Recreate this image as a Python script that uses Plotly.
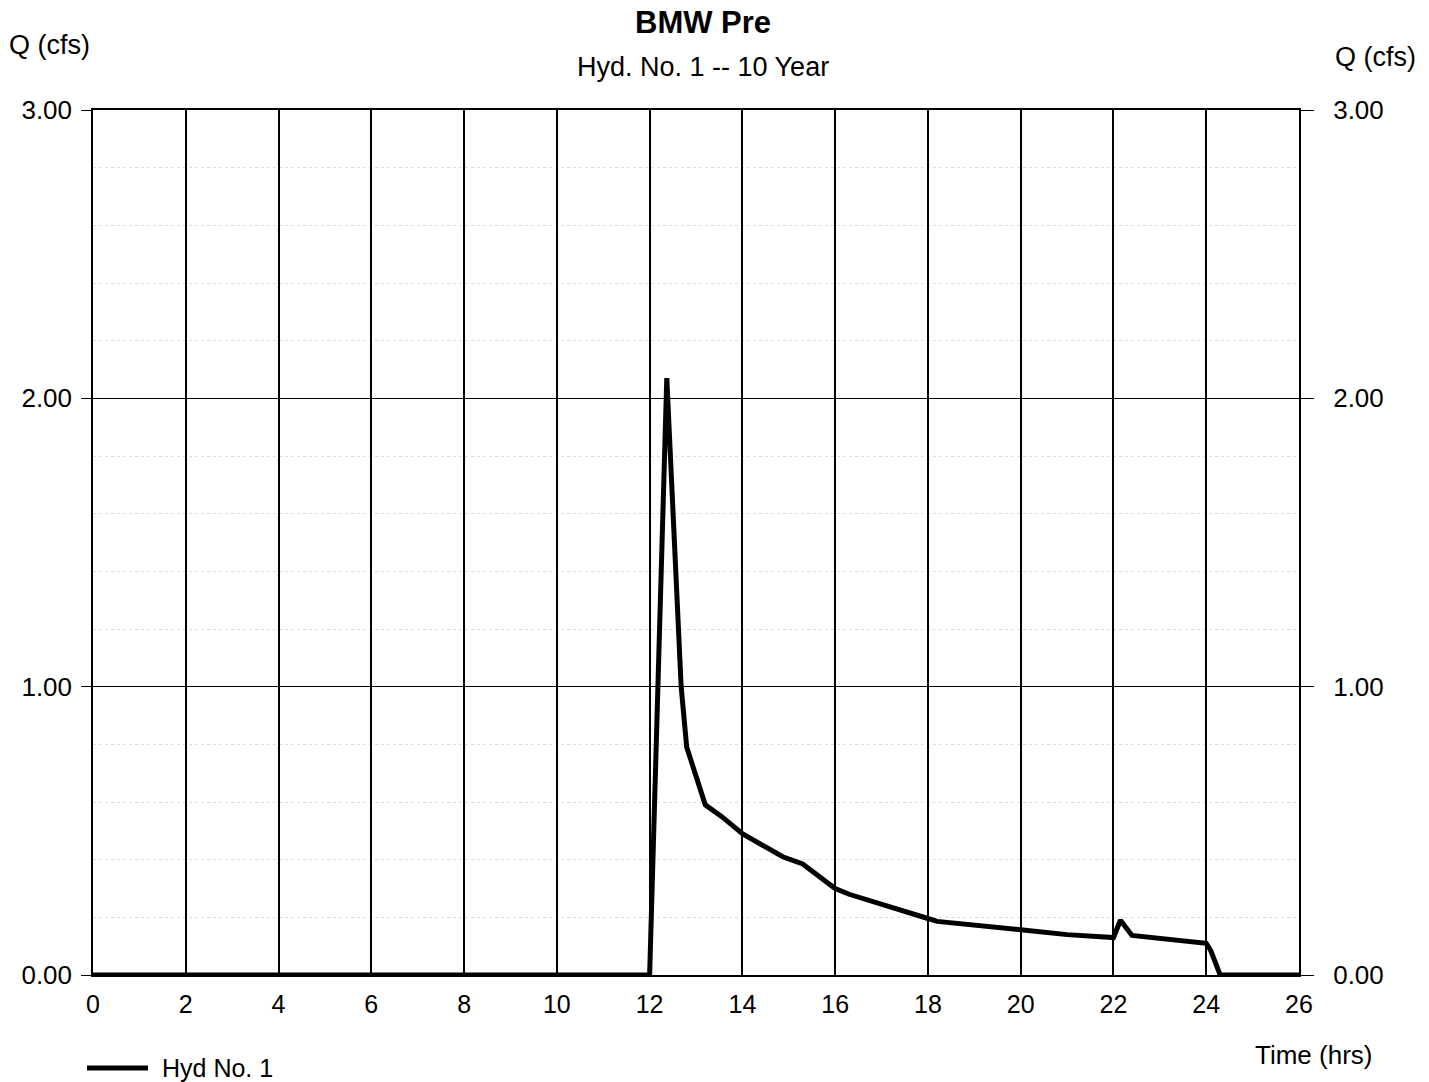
import plotly.graph_objects as go

# Hydrograph
time_hrs = [0.0, 12.0, 12.37, 12.68, 12.8, 13.2, 13.55, 14.0, 14.87, 15.3, 16.0, 16.3,
            18.0, 18.2, 20.0, 21.0, 22.0, 22.15, 22.4, 24.0, 24.1, 24.3, 26.0]
q_cfs = [0.0, 0.0, 2.07, 1.0, 0.79, 0.59, 0.55, 0.49, 0.41, 0.385, 0.30, 0.28,
         0.196, 0.186, 0.157, 0.14, 0.13, 0.19, 0.137, 0.11, 0.084, 0.0, 0.0]

x_ticks = list(range(0, 27, 2))
y_major = [0, 1, 2, 3]
y_minor = [0.2, 0.4, 0.6, 0.8, 1.2, 1.4, 1.6, 1.8, 2.2, 2.4, 2.6, 2.8]

series_name = "Hyd No. 1"
title_text = "BMW Pre"
subtitle_text = "Hyd. No. 1 -- 10 Year"

FONT = "Liberation Sans, Arial, sans-serif"
PLOT_W = 1429 - 93 - 130
PLOT_H = 1082 - 110 - 107

fig = go.Figure()
fig.add_trace(go.Scatter(x=time_hrs, y=q_cfs, mode="lines", name=series_name,
                         line=dict(color="black", width=5), showlegend=False))
fig.add_trace(go.Scatter(x=time_hrs, y=q_cfs, mode="lines", yaxis="y2",
                         line=dict(color="rgba(0,0,0,0)", width=0), showlegend=False,
                         hoverinfo="skip"))

fig.update_layout(
    width=1429, height=1082,
    margin=dict(l=93, r=130, t=110, b=107, autoexpand=False),
    paper_bgcolor="white", plot_bgcolor="white",
    font=dict(family=FONT, size=26, color="black"),
    xaxis=dict(range=[0, 26], tickvals=x_ticks, ticks="", showgrid=True,
               gridcolor="black", gridwidth=1.5, showline=True, linecolor="black",
               linewidth=1.5, mirror=True, zeroline=False, ticklabelstandoff=6,
               tickfont=dict(size=25)),
    yaxis=dict(range=[0, 3], tickvals=y_major, tickformat=".2f", ticks="outside",
               ticklen=10, tickcolor="black", showgrid=True, gridcolor="black",
               gridwidth=1, showline=True, linecolor="black", linewidth=1.5,
               mirror=True, zeroline=False, ticklabelstandoff=4,
               minor=dict(tickvals=y_minor, showgrid=True, gridcolor="#dddddd",
                          griddash="dot", gridwidth=1, ticks="")),
    yaxis2=dict(range=[0, 3], tickvals=y_major, tickformat=".2f", overlaying="y",
                side="right", ticks="outside", ticklen=14, tickcolor="black",
                showgrid=False, zeroline=False, showline=False, ticklabelstandoff=14),
    showlegend=False,
)

# Legend key (drawn to match the long sample line of the original)
leg_y = (975 - 1068) / PLOT_H * -1 * -1
leg_y = -(1068 - 975) / PLOT_H
fig.add_shape(type="line", xref="paper", yref="paper",
              x0=(87 - 93) / PLOT_W, x1=(148 - 93) / PLOT_W, y0=leg_y, y1=leg_y,
              line=dict(color="black", width=5))
fig.add_annotation(text=series_name, xref="paper", yref="paper",
                   x=(160 - 93) / PLOT_W, y=leg_y, showarrow=False, xanchor="left",
                   yanchor="middle", font=dict(size=25))

fig.add_annotation(text="<b>" + title_text + "</b>", xref="paper", yref="paper",
                   x=0.506, y=1.0, yshift=88, showarrow=False, font=dict(size=31),
                   yanchor="middle")
fig.add_annotation(text=subtitle_text, xref="paper", yref="paper", x=0.506, y=1.0,
                   yshift=43, showarrow=False, font=dict(size=27), yanchor="middle")
fig.add_annotation(text="Q (cfs)", xref="paper", yref="paper", x=0.0, y=1.0,
                   xshift=-86, yshift=65, showarrow=False, xanchor="left",
                   yanchor="middle", font=dict(size=27))
fig.add_annotation(text="Q (cfs)", xref="paper", yref="paper", x=1.0, y=1.0,
                   xshift=34, yshift=53, showarrow=False, xanchor="left",
                   yanchor="middle", font=dict(size=27))
fig.add_annotation(text="Time (hrs)", xref="paper", yref="paper", x=1.0, y=0.0,
                   xshift=-46, yshift=-80, showarrow=False, xanchor="left",
                   yanchor="middle", font=dict(size=26))

fig.write_html("out.html")
